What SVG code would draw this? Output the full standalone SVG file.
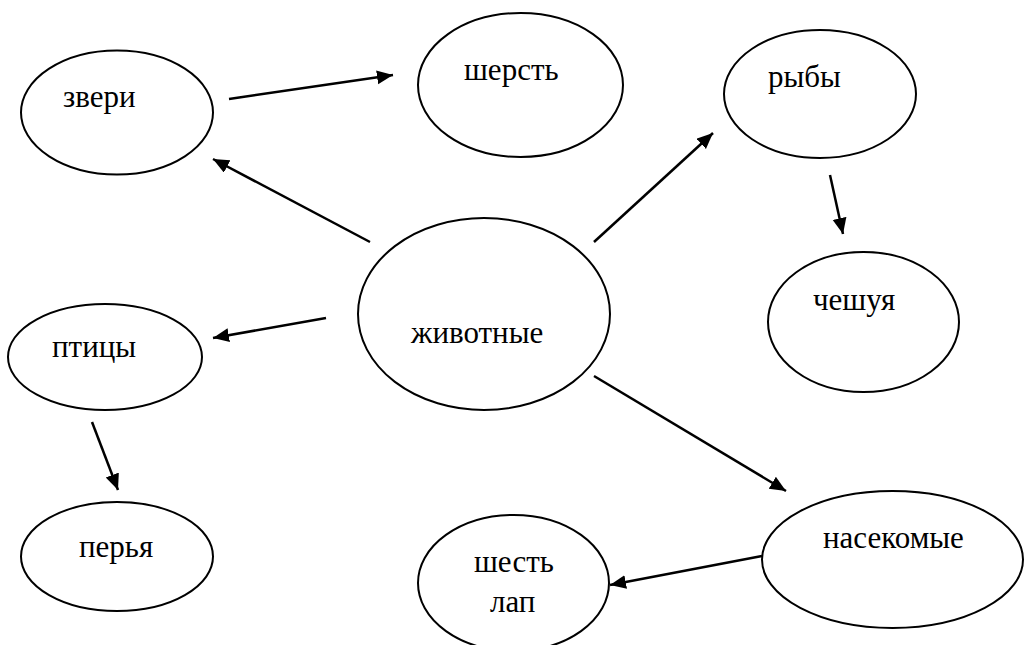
<svg xmlns="http://www.w3.org/2000/svg" width="1027" height="645" viewBox="0 0 1027 645">
<defs>
<style>
.node ellipse{fill:#fff;stroke:#000;stroke-width:2}
.edges line{stroke:#000;stroke-width:2.5}
</style>
<marker id="ah" markerUnits="userSpaceOnUse" markerWidth="18" markerHeight="16" refX="16" refY="7" orient="auto">
<path d="M0,0 L16,7 L0,14 z" fill="#000"/>
</marker>
</defs>
<rect width="1027" height="645" fill="#fff"/>
<g font-family="Liberation Serif, Times New Roman, Tinos, DejaVu Serif, Noto Serif, serif" font-size="31" fill="#000">
<g id="n-zveri" class="node"><ellipse cx="117" cy="112.5" rx="96" ry="62"/><text x="63" y="107">звери</text></g>
<g id="n-sherst" class="node"><ellipse cx="520.5" cy="85" rx="102.5" ry="72"/><text x="464" y="80">шерсть</text></g>
<g id="n-ryby" class="node"><ellipse cx="820" cy="94" rx="96" ry="64"/><text x="768" y="87">рыбы</text></g>
<g id="n-cheshuya" class="node"><ellipse cx="863.5" cy="322" rx="95.5" ry="70"/><text x="813" y="310">чешуя</text></g>
<g id="n-zhivotnye" class="node"><ellipse cx="484" cy="314" rx="126" ry="96"/><text x="411" y="343">животные</text></g>
<g id="n-ptitsy" class="node"><ellipse cx="105" cy="357" rx="97" ry="53"/><text x="52" y="357">птицы</text></g>
<g id="n-perya" class="node"><ellipse cx="117" cy="556.5" rx="96" ry="54.5"/><text x="79" y="557">перья</text></g>
<g id="n-nasekomye" class="node"><ellipse cx="892.5" cy="559.5" rx="130.5" ry="68.5"/><text x="823" y="548">насекомые</text></g>
<g id="n-shest-lap" class="node"><ellipse cx="513.5" cy="583" rx="95.5" ry="68"/><text x="474" y="572">шесть</text><text x="490" y="612">лап</text></g>
</g>
<g id="edges" class="edges">
<line x1="229" y1="99" x2="393" y2="75" marker-end="url(#ah)"/>
<line x1="370" y1="242" x2="213" y2="159" marker-end="url(#ah)"/>
<line x1="594" y1="242" x2="713" y2="133" marker-end="url(#ah)"/>
<line x1="830" y1="175" x2="843" y2="234" marker-end="url(#ah)"/>
<line x1="326" y1="318" x2="213" y2="338" marker-end="url(#ah)"/>
<line x1="92" y1="422" x2="118" y2="490" marker-end="url(#ah)"/>
<line x1="594" y1="376" x2="786" y2="491" marker-end="url(#ah)"/>
<line x1="762" y1="556" x2="610" y2="585" marker-end="url(#ah)"/>
</g>
</svg>
